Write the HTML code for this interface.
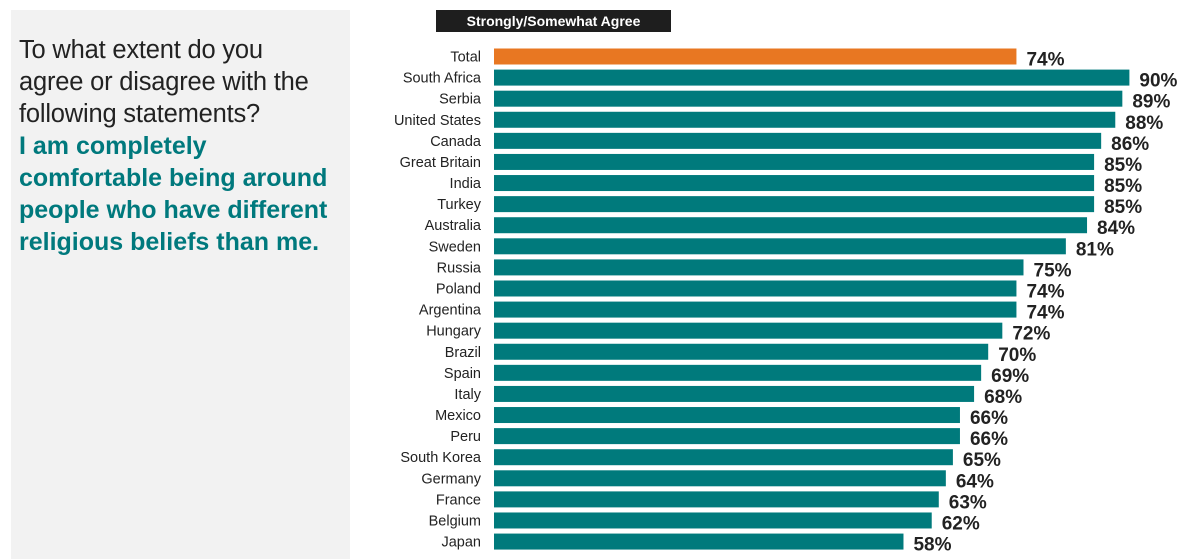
<!DOCTYPE html>
<html><head><meta charset="utf-8"><style>
body{margin:0;width:1200px;height:559px;background:#fff;overflow:hidden;font-family:"Liberation Sans",sans-serif;position:relative}
#panel{position:absolute;left:11px;top:10px;width:339px;height:549px;background:#f2f2f2}
#q{position:absolute;left:19px;top:34px;font-size:25.5px;line-height:32px;color:#222;letter-spacing:-0.2px;white-space:nowrap}
#q b{color:#00797d;font-size:25px;letter-spacing:0}
#hdr{position:absolute;left:436px;top:10px;width:235px;height:22px;background:#1e1e1e;color:#fff;font-weight:bold;font-size:14px;line-height:22px;text-align:center}
</style></head><body>
<div id="panel"></div>
<div id="q">To what extent do you<br>agree or disagree with the<br>following statements?<br><b>I am completely<br>comfortable being around<br>people who have different<br>religious beliefs than me.</b></div>
<div id="hdr">Strongly/Somewhat Agree</div>
<svg id="chart" width="1200" height="559" style="position:absolute;left:0;top:0"></svg>
<script>
const categories=["Total","South Africa","Serbia","United States","Canada","Great Britain","India","Turkey","Australia","Sweden","Russia","Poland","Argentina","Hungary","Brazil","Spain","Italy","Mexico","Peru","South Korea","Germany","France","Belgium","Japan"];
const values=[74,90,89,88,86,85,85,85,84,81,75,74,74,72,70,69,68,66,66,65,64,63,62,58];
const svg=document.getElementById('chart');
const NS='http://www.w3.org/2000/svg';
const x=v=>494+v*7.06;
const y=i=>48.5+i*21.09;
values.forEach((v,i)=>{
  const r=document.createElementNS(NS,'rect');
  r.setAttribute('x',494);r.setAttribute('y',y(i));
  r.setAttribute('width',x(v)-494);r.setAttribute('height',16);
  r.setAttribute('fill',i===0?'#e87722':'#007a7c');
  
  
  svg.appendChild(r);
  const l=document.createElementNS(NS,'text');
  l.setAttribute('x',481);l.setAttribute('y',y(i)+13);
  l.setAttribute('text-anchor','end');l.setAttribute('font-size','14.5');l.setAttribute('fill','#222');
  l.textContent=categories[i];
  
  
  svg.appendChild(l);
  const t=document.createElementNS(NS,'text');
  t.setAttribute('x',x(v)+10);t.setAttribute('y',y(i)+17);
  t.setAttribute('font-size','19');t.setAttribute('font-weight','bold');t.setAttribute('fill','#222');
  t.textContent=v+'%';
  
  
  svg.appendChild(t);
});
</script>
</body></html>
